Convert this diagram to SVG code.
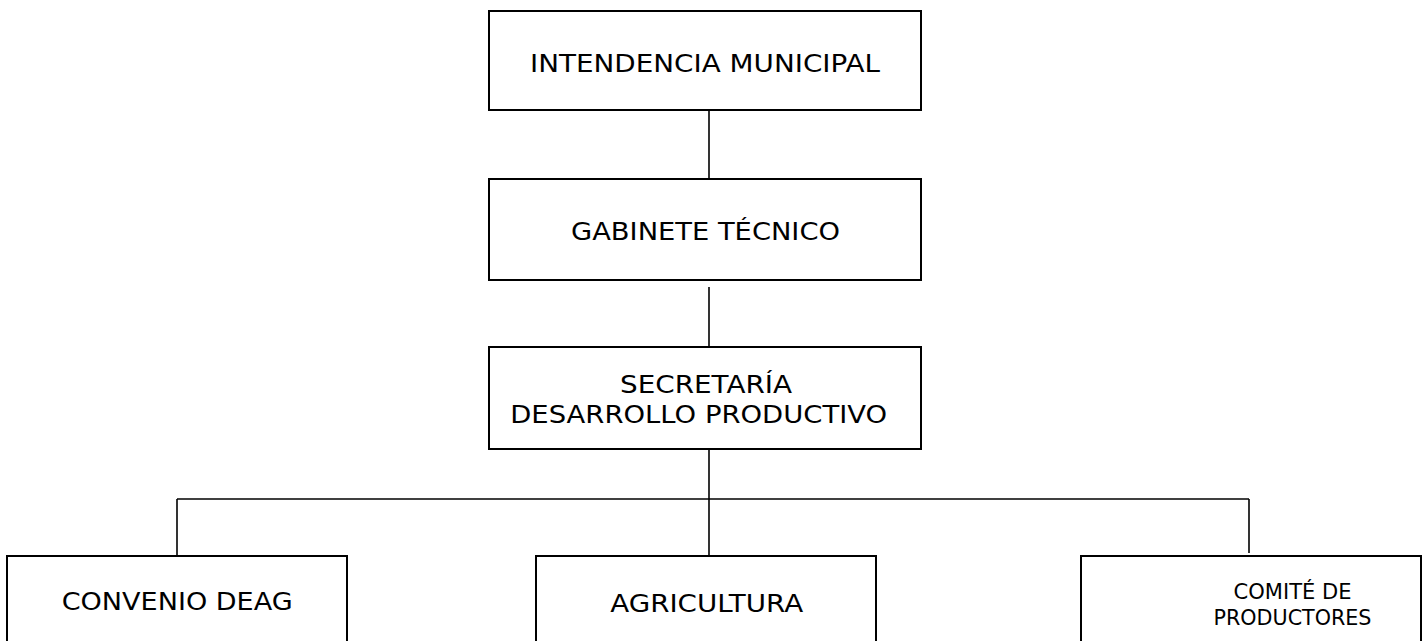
<svg xmlns="http://www.w3.org/2000/svg" width="1425" height="641" viewBox="0 0 1425 641">
<style>
.box{fill:#fff;stroke:#000;stroke-width:2}
.ln{stroke:#000;stroke-width:1.6;fill:none}
.t{font-family:"DejaVu Sans","Liberation Sans",sans-serif;font-size:25.5px;fill:#000;text-anchor:middle}
.s{font-size:21px}
</style>
<rect width="1425" height="641" fill="#fff"/>
<g id="connectors">
<line class="ln" x1="709" y1="111" x2="709" y2="181"/>
<line class="ln" x1="709" y1="287" x2="709" y2="357"/>
<line class="ln" x1="709" y1="450" x2="709" y2="557"/>
<line class="ln" x1="177" y1="499" x2="1249" y2="499"/>
<line class="ln" x1="177" y1="499" x2="177" y2="555"/>
<line class="ln" x1="1249" y1="499" x2="1249" y2="553"/>
</g>
<g id="n1">
<rect class="box" x="489" y="11" width="432" height="99"/>
<text class="t" x="705" y="72" textLength="350" lengthAdjust="spacingAndGlyphs">INTENDENCIA MUNICIPAL</text>
</g>
<g id="n2">
<rect class="box" x="489" y="179" width="432" height="101"/>
<text class="t" x="705.5" y="240" textLength="269" lengthAdjust="spacingAndGlyphs">GABINETE TÉCNICO</text>
</g>
<g id="n3">
<rect class="box" x="489" y="347" width="432" height="102"/>
<text class="t" x="706" y="393" textLength="172" lengthAdjust="spacingAndGlyphs">SECRETARÍA</text>
<text class="t" x="698.7" y="423" textLength="377" lengthAdjust="spacingAndGlyphs">DESARROLLO PRODUCTIVO</text>
</g>
<g id="n4">
<rect class="box" x="7" y="556" width="340" height="100"/>
<text class="t" x="177.2" y="610" textLength="231" lengthAdjust="spacingAndGlyphs">CONVENIO DEAG</text>
</g>
<g id="n5">
<rect class="box" x="536" y="556" width="340" height="100"/>
<text class="t" x="706.7" y="611.5" textLength="193" lengthAdjust="spacingAndGlyphs">AGRICULTURA</text>
</g>
<g id="n6">
<rect class="box" x="1081" y="556" width="340" height="100"/>
<text class="t s" x="1292.5" y="598.5" textLength="118" lengthAdjust="spacingAndGlyphs">COMITÉ DE</text>
<text class="t s" x="1292.5" y="625" textLength="158" lengthAdjust="spacingAndGlyphs">PRODUCTORES</text>
</g>
</svg>
